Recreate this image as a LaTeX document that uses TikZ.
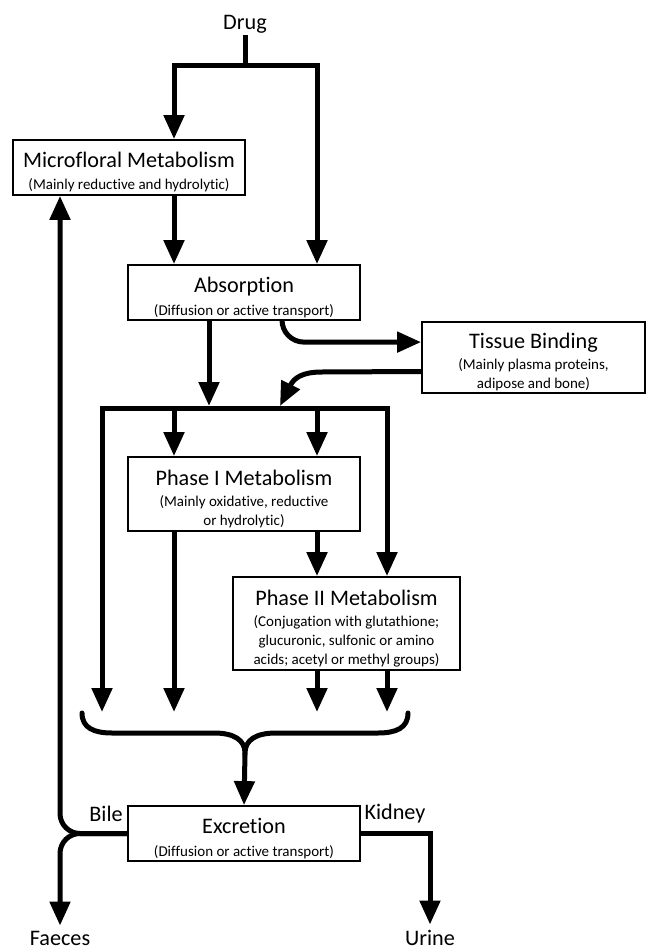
\documentclass[tikz,border=0pt]{standalone}
\usepackage{fontspec}
\setmainfont{Carlito}[Ligatures=NoCommon]
\usetikzlibrary{arrows.meta,calc}
\newcommand\boxtitle{\fontsize{22.2}{26}\selectfont\rule{0pt}{25pt}}
\newcommand\boxsub{\fontsize{15}{19}\selectfont}
\begin{document}
\begin{tikzpicture}[x=1pt,y=-1pt,
  flow/.style={line width=5pt},
  arr/.style={flow,-{Triangle[length=24pt,width=20pt]}},
  proc/.style={draw,line width=1.8pt,fill=white,align=center,inner sep=0pt,font=\boxsub},
  lbl/.style={font=\fontsize{22.2}{26}\selectfont,inner sep=1pt}]
\useasboundingbox (0,0) rectangle (647,949);
% nodes
\node[lbl,anchor=base] (drug) at (245,30) {Drug};
\node[proc,minimum width=232pt,minimum height=55pt] (micro) at (129,167.5)
  {\boxtitle Microfloral Metabolism\\[3pt]\boxsub (Mainly reductive and hydrolytic)};
\node[proc,minimum width=232pt,minimum height=55pt] (absorb) at (244,292.5)
  {\boxtitle Absorption\\[4pt]\boxsub (Diffusion or active transport)};
\node[proc,minimum width=223pt,minimum height=71pt] (tissue) at (533.5,357.5)
  {\boxtitle Tissue Binding\\[2pt]\boxsub (Mainly plasma proteins,\\\boxsub adipose and bone)};
\node[proc,minimum width=232pt,minimum height=74pt] (phase1) at (244,494)
  {\boxtitle Phase I Metabolism\\[2pt]\boxsub (Mainly oxidative, reductive\\\boxsub or hydrolytic)};
\node[proc,minimum width=227pt,minimum height=93pt] (phase2) at (346.5,623.5)
  {\boxtitle Phase II Metabolism\\[2pt]\boxsub (Conjugation with glutathione;\\\boxsub glucuronic, sulfonic or amino\\\boxsub acids; acetyl or methyl groups)};
\node[proc,minimum width=232pt,minimum height=55pt] (excr) at (244,833.5)
  {\boxtitle Excretion\\[4pt]\boxsub (Diffusion or active transport)};
\node[lbl] (bile) at (106,814) {Bile};
\node[lbl] (kidney) at (395,814) {Kidney};
\node[lbl,anchor=base] (faeces) at (60,945) {Faeces};
\node[lbl,anchor=base] (urine) at (430,945) {Urine};
% coordinates
\coordinate (split) at (245,66);
\coordinate (cL) at (174,66);
\coordinate (cR) at (317,66);
\coordinate (jA) at (209,406);
\coordinate (jT) at (280,406);
\coordinate (barL) at (102,408);
\coordinate (barR) at (387,408);
\coordinate (fL) at (102,712);
\coordinate (bk) at (245,753);
\coordinate (vx) at (60,900);
% connectors
\draw[flow] (drug.south) -- (split);
\draw[arr] (split) -| (micro.north -| cL);
\draw[arr] (split) -| (absorb.north -| cR);
\draw[arr] (micro.south -| cL) -- (absorb.north -| cL);
\draw[arr,rounded corners=22pt] ($(absorb.south)+(38,0)$) |- ($(tissue.north west)+(0,21)$);
\draw[arr] ($(tissue.west)+(0,14)$) -- (322,372) .. controls (302,372) and (294,378) .. (jT);
\draw[arr] (absorb.south -| jA) -- (jA);
\draw[arr] (barR) -- (barL) -- (fL);
\draw[arr] (barL) -- (barR) -- (phase2.north -| barR);
\draw[arr] (barL -| cL) -- (phase1.north -| cL);
\draw[arr] (barL -| cR) -- (phase1.north -| cR);
\draw[arr] (phase1.south -| cL) -- (fL -| cL);
\draw[arr] (phase1.south -| cR) -- (phase2.north -| cR);
\draw[arr] (phase2.south -| cR) -- (fL -| cR);
\draw[arr] (phase2.south -| barR) -- (fL -| barR);
% brace
\draw[flow,line cap=round] (82,713) .. controls (82,728) and (94,733) .. (112,733)
  -- (214,733) .. controls (234,733) and (245,740) .. (bk)
  .. controls (245,740) and (256,733) .. (276,733)
  -- (378,733) .. controls (396,733) and (408,728) .. (408,713);
\draw[arr] (bk) -- (excr.north);
% excretion
\draw[arr,rounded corners=20pt] (excr.west) -| (micro.south -| vx);
\draw[arr,rounded corners=20pt] (excr.west) -| ($(faeces.north)+(0,-4)$);
\draw[arr] (excr.east) -| ($(urine.north)+(0,-4)$);
\end{tikzpicture}
\end{document}
